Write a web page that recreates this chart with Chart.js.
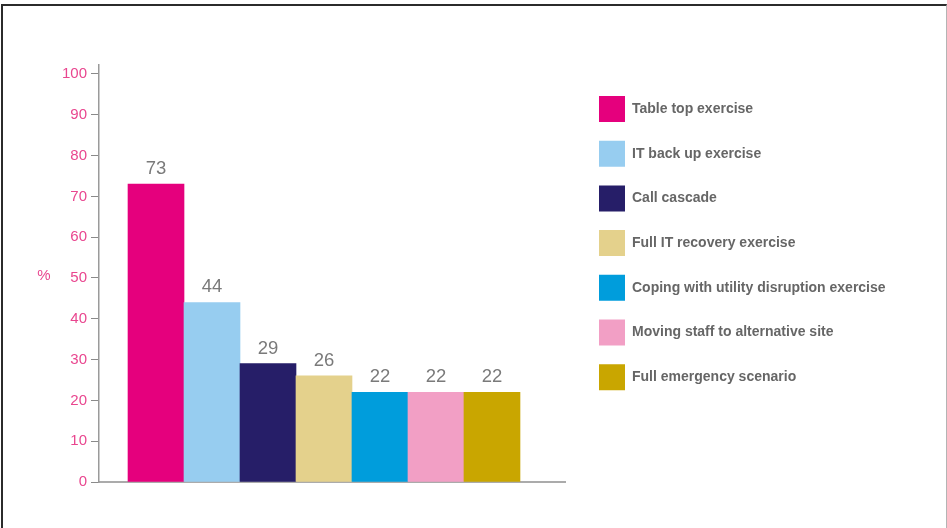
<!DOCTYPE html>
<html>
<head>
<meta charset="utf-8">
<script src="https://cdn.jsdelivr.net/npm/chart.js@4.4.1/dist/chart.umd.min.js"></script>
<style>
  html, body { margin: 0; padding: 0; background: #fff; }
  #wrap { position: relative; width: 947px; height: 528px; overflow: hidden; }
  #frame { position: absolute; left: 1px; top: 4px; right: 0; bottom: -10px;
           border-top: 2px solid #2b2b2b; border-left: 2px solid #2b2b2b; border-right: 1px solid #b4b4b4; }
  canvas { position: absolute; left: 0; top: 0; }
</style>
</head>
<body>
<div id="wrap">
  <div id="frame"></div>
  <canvas id="chart" width="947" height="528"></canvas>
</div>
<script>
// chart data
const categories = [
  'Table top exercise',
  'IT back up exercise',
  'Call cascade',
  'Full IT recovery exercise',
  'Coping with utility disruption exercise',
  'Moving staff to alternative site',
  'Full emergency scenario'
];
const values = [73, 44, 29, 26, 22, 22, 22];
const colours = ['#e5007d', '#97cdf0', '#261e68', '#e4d18c', '#009ddc', '#f29fc5', '#c9a600'];
const yTicks = [0, 10, 20, 30, 40, 50, 60, 70, 80, 90, 100];
const yTitle = '%';

const FONT = "'Liberation Sans', Arial, Helvetica, sans-serif";
const PINK = '#e9468f';
const LEGEND_TEXT = '#666666';
const W = 947;
const PLOT_RIGHT = 565;   // where the x axis line stops

const ctx = document.getElementById('chart');

// value labels on top of each bar
const barLabels = {
  id: 'barLabels',
  afterDatasetsDraw(chart) {
    const c = chart.ctx;
    const meta = chart.getDatasetMeta(0);
    c.save();
    c.font = '18.5px ' + FONT;
    c.fillStyle = '#7a7a7a';
    c.textAlign = 'center';
    c.textBaseline = 'alphabetic';
    meta.data.forEach((bar, i) => {
      c.fillText(String(values[i]), bar.x, bar.y - 10);
    });
    c.restore();
  }
};

// "%" label left of the y axis, level with 50
const yLabel = {
  id: 'yLabel',
  afterDraw(chart) {
    const c = chart.ctx;
    const y = chart.scales.y.getPixelForValue(50);
    c.save();
    c.font = '15px ' + FONT;
    c.fillStyle = PINK;
    c.textAlign = 'center';
    c.textBaseline = 'middle';
    c.fillText(yTitle, 44, y - 2);
    c.restore();
  }
};

// fixed legend width so the plot ends at PLOT_RIGHT, then nudge the items into place
const legendPlace = {
  id: 'legendPlace',
  beforeLayout(chart) {
    const lg = chart.legend;
    if (lg && !lg._fixedWidth) {
      const fit = lg.fit;
      lg.fit = function () {
        fit.call(this);
        this.width = W - PLOT_RIGHT;
      };
      lg._fixedWidth = true;
    }
  },
  afterLayout(chart) {
    const lg = chart.legend;
    const pad = lg.options.labels.padding;
    lg.left = 599 - pad;
    lg.right = W;
    lg.width = lg.right - lg.left;
    lg.top = 96 - pad;
  }
};

const points = categories.map((c, i) => ({ x: i, y: values[i] }));

new Chart(ctx, {
  type: 'bar',
  data: {
    datasets: [{
      data: points,
      backgroundColor: colours,
      borderWidth: 0,
      barPercentage: 1,
      categoryPercentage: 1
    }]
  },
  options: {
    responsive: false,
    animation: false,
    layout: { padding: { left: 0, top: 65, right: 0, bottom: 46 } },
    scales: {
      x: {
        type: 'linear',
        offset: false,
        min: -1.018,
        max: 7.304,
        afterBuildTicks: s => { s.ticks = categories.map((c, i) => ({ value: i })); },
        ticks: { display: false },
        grid: { display: true, drawOnChartArea: false, drawTicks: false },
        border: { color: '#ababab', width: 2 }
      },
      y: {
        min: 0,
        max: 102.2,
        afterBuildTicks: s => { s.ticks = yTicks.map(v => ({ value: v })); },
        afterFit: s => { s.width = 99; },
        ticks: { color: PINK, font: { family: FONT, size: 15 }, padding: 4 },
        grid: { drawOnChartArea: false, drawTicks: true, tickLength: 8, color: '#8a8a8a', lineWidth: 1 },
        border: { color: '#9a9a9a', width: 1.5 }
      }
    },
    plugins: {
      tooltip: { enabled: false },
      legend: {
        position: 'right',
        align: 'start',
        onClick: null,
        labels: {
          boxWidth: 26,
          boxHeight: 26,
          padding: 18.7,
          color: LEGEND_TEXT,
          font: { family: FONT, size: 14, weight: 'bold' },
          generateLabels: () => categories.map((c, i) => ({
            text: c,
            fillStyle: colours[i],
            strokeStyle: colours[i],
            fontColor: LEGEND_TEXT,
            lineWidth: 0,
            hidden: false,
            index: i,
            datasetIndex: 0
          }))
        }
      }
    }
  },
  plugins: [barLabels, yLabel, legendPlace]
});
</script>
</body>
</html>
